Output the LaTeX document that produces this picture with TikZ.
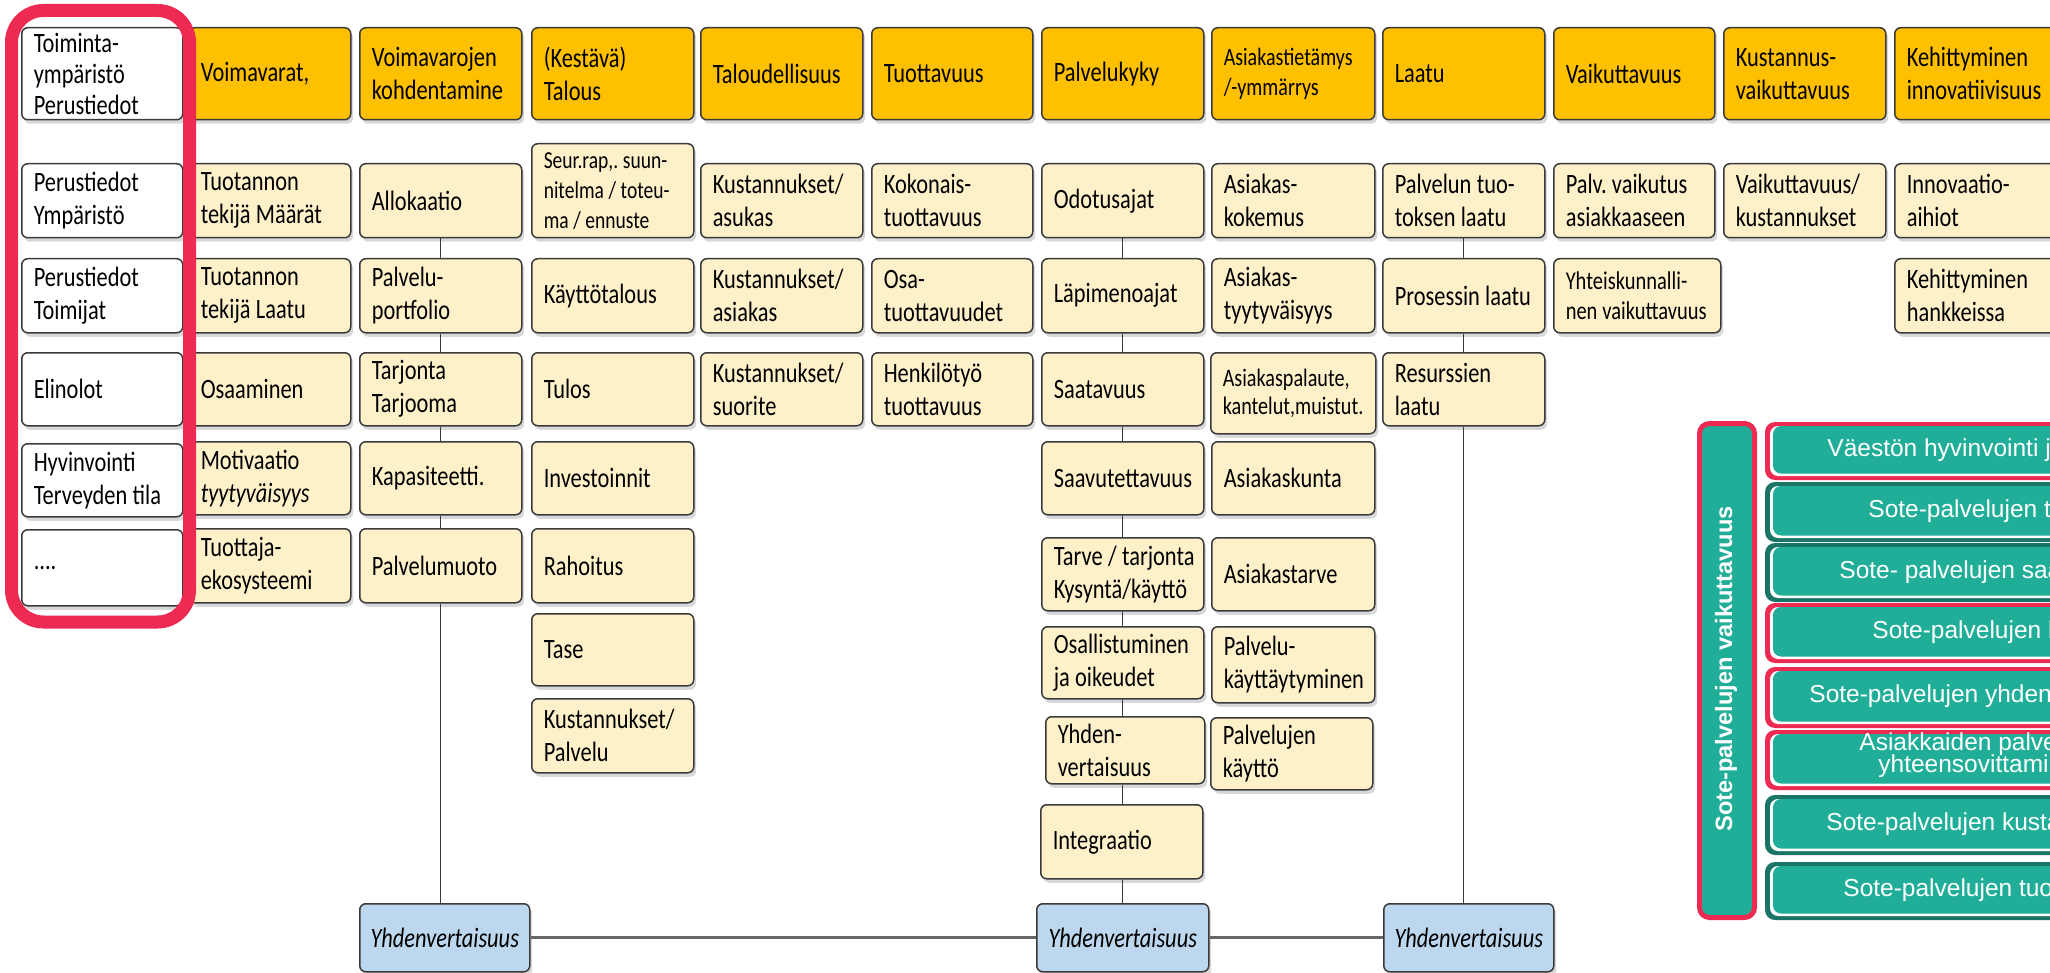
\documentclass[tikz,border=0pt]{standalone}
\usepackage{fontspec}
\setmainfont[FakeStretch=0.8]{Carlito}
\newfontfamily\arialf{Liberation Sans}
\usetikzlibrary{shadows}
\definecolor{gold}{HTML}{FFC000}
\definecolor{cream}{HTML}{FEF1CA}
\definecolor{bord}{HTML}{3A3A3A}
\definecolor{lblue}{HTML}{BDD7EE}
\definecolor{framered}{HTML}{EC2A52}
\definecolor{tealf}{HTML}{20AE98}
\definecolor{dteal}{HTML}{1B7566}
\tikzset{
  boxlook/.style={draw=bord, line width=0.75pt, rounded corners=3pt, inner xsep=0pt, inner ysep=0pt,
    drop shadow={shadow xshift=1.2pt, shadow yshift=-2pt, opacity=0.3}},
  base/.style={boxlook, align=left, font=\fontsize{14}{16.5}\selectfont,
    execute at begin node={\hyphenpenalty=10000\exhyphenpenalty=10000\frenchspacing
      \leftskip=6pt\spaceskip=0.19em plus 0.05em minus 0.02em}},
  hdr/.style={base, fill=gold},
  crm/.style={base, fill=cream},
  wht/.style={base, fill=white},
  sm/.style={font=\fontsize{12.5}{15}\selectfont},
  yhd/.style={boxlook, fill=lblue, align=center, font=\fontsize{14}{16.5}\selectfont\itshape},
  conn/.style={draw=bord, line width=0.7pt},
  hconn/.style={draw=black!60, line width=1.3pt},
  rtext/.style={font=\arialf\fontsize{12.25}{14}\selectfont, text=white, inner sep=0pt, anchor=west},
}
\newcommand\bx[7]{%
  \pgfmathsetmacro\bw{(#4-#2)*0.5}%
  \pgfmathsetmacro\bh{(#5-#3)*0.5}%
  \node[#1, anchor=north west, minimum width=\bw pt, minimum height=\bh pt, text width=\bw pt] (#6) at (#2,#3) {#7};}
\newcommand\srow[3]{%
  \fill[#1, rounded corners=5pt] (1765,#2) rectangle (2090,#3);
  \fill[white, rounded corners=4pt] (1770,#2+4) rectangle (2090,#3-4);
  \fill[tealf, rounded corners=4pt] (1773,#2+4) rectangle (2090,#3-6.5);}
\begin{document}
\begin{tikzpicture}[x=0.5pt, y=-0.5pt]
\useasboundingbox (0,0) rectangle (2050,973);
\begin{scope}
\clip (0,0) rectangle (2050,973);
\fill[white] (0,0) rectangle (2050,973);
% column 0
\bx{wht, font=\fontsize{14}{15.5}\selectfont}{21}{27}{182}{119}{h0}{Toiminta-\\ympäristö\\Perustiedot}
\bx{wht}{21}{163}{182}{237}{a1}{Perustiedot\\Ympäristö}
\bx{wht}{21}{258}{182}{332}{a2}{Perustiedot\\Toimijat}
\bx{wht}{21}{352}{182}{425}{a3}{Elinolot}
\bx{wht}{21}{443}{182}{516}{a4}{Hyvinvointi\\Terveyden tila}
\bx{wht}{21}{529}{182}{605}{a5}{....}
% column 1
\bx{hdr}{188}{27}{350}{119}{h1}{Voimavarat,}
\bx{crm}{188}{163}{350}{237}{b1}{Tuotannon\\tekijä Määrät}
\bx{crm}{188}{258}{350}{332}{b2}{Tuotannon\\tekijä Laatu}
\bx{crm}{188}{352}{350}{425}{b3}{Osaaminen}
\bx{crm}{188}{441}{350}{514}{b4}{Motivaatio\\\textit{tyytyväisyys}}
\bx{crm}{188}{528}{350}{602}{b5}{Tuottaja-\\ekosysteemi}
% column 2
\bx{hdr}{359}{27}{521}{119}{h2}{Voimavarojen\\kohdentamine}
\bx{crm}{359}{163}{521}{237}{c1}{Allokaatio}
\bx{crm}{359}{258}{521}{332}{c2}{Palvelu-\\portfolio}
\bx{crm}{359}{352}{521}{425}{c3}{Tarjonta\\Tarjooma}
\bx{crm}{359}{441}{521}{514}{c4}{Kapasiteetti.}
\bx{crm}{359}{528}{521}{602}{c5}{Palvelumuoto}
% column 3
\bx{hdr}{531}{27}{693}{119}{h3}{(Kestävä)\\Talous}
\bx{crm, font=\fontsize{12.2}{15}\selectfont}{531}{143}{693}{237}{d1}{Seur.rap,. suun-\\nitelma / toteu-\\ma / ennuste}
\bx{crm}{531}{258}{693}{332}{d2}{Käyttötalous}
\bx{crm}{531}{352}{693}{425}{d3}{Tulos}
\bx{crm}{531}{441}{693}{514}{d4}{Investoinnit}
\bx{crm}{531}{528}{693}{602}{d5}{Rahoitus}
\bx{crm}{531}{613}{693}{685}{d6}{Tase}
\bx{crm}{531}{698}{693}{772}{d7}{Kustannukset/\\Palvelu}
% column 4
\bx{hdr}{700}{27}{862}{119}{h4}{Taloudellisuus}
\bx{crm}{700}{163}{862}{237}{e1}{Kustannukset/\\asukas}
\bx{crm}{700}{258}{862}{332}{e2}{Kustannukset/\\asiakas}
\bx{crm}{700}{352}{862}{425}{e3}{Kustannukset/\\suorite}
% column 5
\bx{hdr}{871}{27}{1032}{119}{h5}{Tuottavuus}
\bx{crm}{871}{163}{1032}{237}{f1}{Kokonais-\\tuottavuus}
\bx{crm}{871}{258}{1032}{332}{f2}{Osa-\\tuottavuudet}
\bx{crm}{871}{352}{1032}{425}{f3}{Henkilötyö\\tuottavuus}
% column 6
\bx{hdr}{1041}{27}{1203}{119}{h6}{Palvelukyky}
\bx{crm}{1041}{163}{1203}{237}{g1}{Odotusajat}
\bx{crm}{1041}{258}{1203}{332}{g2}{Läpimenoajat}
\bx{crm}{1041}{352}{1203}{425}{g3}{Saatavuus}
\bx{crm}{1041}{441}{1203}{514}{g4}{Saavutettavuus}
\bx{crm}{1041}{537}{1203}{610}{g5}{Tarve / tarjonta\\Kysyntä/käyttö}
\bx{crm}{1041}{626}{1203}{698}{g6}{Osallistuminen\\ja oikeudet}
\bx{crm}{1045}{716}{1204}{783}{g7}{Yhden-\\vertaisuus}
\bx{crm}{1040}{804}{1202}{878}{g8}{Integraatio}
% column 7
\bx{hdr, sm}{1211}{27}{1374}{119}{h7}{Asiakastietämys\\/-ymmärrys}
\bx{crm}{1211}{163}{1374}{237}{k1}{Asiakas-\\kokemus}
\bx{crm}{1211}{258}{1374}{332}{k2}{Asiakas-\\tyytyväisyys}
\bx{crm, font=\fontsize{12.6}{14}\selectfont}{1210}{352}{1375}{433}{k3}{Asiakaspalaute,\\kantelut,muistut.}
\bx{crm}{1211}{441}{1374}{514}{k4}{Asiakaskunta}
\bx{crm}{1211}{537}{1374}{610}{k5}{Asiakastarve}
\bx{crm}{1211}{626}{1374}{702}{k6}{Palvelu-\\käyttäytyminen}
\bx{crm}{1210}{717}{1372}{789}{k7}{Palvelujen\\käyttö}
% column 8
\bx{hdr}{1382}{27}{1544}{119}{h8}{Laatu}
\bx{crm}{1382}{163}{1544}{237}{l1}{Palvelun tuo-\\toksen laatu}
\bx{crm}{1382}{258}{1544}{332}{l2}{Prosessin laatu}
\bx{crm}{1382}{352}{1544}{425}{l3}{Resurssien\\laatu}
% column 9
\bx{hdr}{1553}{27}{1714}{119}{h9}{Vaikuttavuus}
\bx{crm}{1553}{163}{1714}{237}{m1}{Palv. vaikutus\\asiakkaaseen}
\bx{crm, font=\fontsize{12.8}{15}\selectfont}{1553}{258}{1720}{332}{m2}{Yhteiskunnalli-\\nen vaikuttavuus}
% column 10
\bx{hdr}{1723}{27}{1885}{119}{h10}{Kustannus-\\vaikuttavuus}
\bx{crm}{1723}{163}{1885}{237}{n1}{Vaikuttavuus/\\kustannukset}
% column 11
\bx{hdr}{1894}{27}{2056}{119}{h11}{Kehittyminen\\innovatiivisuus}
\bx{crm}{1894}{163}{2056}{237}{p1}{Innovaatio-\\aihiot}
\bx{crm}{1894}{258}{2056}{332}{p2}{Kehittyminen\\hankkeissa}
% bottom boxes
\bx{yhd}{359}{903}{529}{971}{yL}{Yhdenvertaisuus}
\bx{yhd}{1036}{903}{1208}{971}{yM}{Yhdenvertaisuus}
\bx{yhd}{1383}{903}{1553}{971}{yR}{Yhdenvertaisuus}
% connectors
\draw[conn] (c1.south) -- (c2.north);
\draw[conn] (c2.south) -- (c3.north);
\draw[conn] (c3.south) -- (c4.north);
\draw[conn] (c4.south) -- (c5.north);
\draw[conn] (c5.south) -- (c5.south |- yL.north);
\draw[conn] (g1.south) -- (g2.north);
\draw[conn] (g2.south) -- (g3.north);
\draw[conn] (g3.south) -- (g4.north);
\draw[conn] (g4.south) -- (g5.north);
\draw[conn] (g5.south) -- (g6.north);
\draw[conn] (g6.south) -- (g6.south |- g7.north);
\draw[conn] (g7.south -| g6.south) -- (g8.north -| g6.south);
\draw[conn] (g8.south -| g6.south) -- (yM.north -| g6.south);
\draw[conn] (l1.south) -- (l2.north);
\draw[conn] (l2.south) -- (l3.north);
\draw[conn] (l3.south) -- (l3.south |- yR.north);
\draw[hconn] (yL.east) -- (yM.west);
\draw[hconn] (yM.east) -- (yR.west);
% left red frame
\draw[framered, line width=6.5pt, rounded corners=16pt] (11.5,10.5) rectangle (189.5,622);
% right panel
\draw[framered, line width=2.5pt, fill=tealf, rounded corners=5pt] (1699.5,423.5) rectangle (1754.5,917.5);
\node[rotate=90, font=\arialf\bfseries\fontsize{11.8}{14}\selectfont, text=white, inner sep=0pt] (vlab) at (1726,669) {Sote-palvelujen vaikuttavuus};
\srow{framered}{422}{480}
\srow{dteal}{482}{542}
\srow{dteal}{543}{602}
\srow{framered}{603}{663}
\srow{framered}{667}{728}
\srow{framered}{730}{790}
\srow{dteal}{795}{855}
\srow{dteal}{862}{920}
\node[rtext] (r1) at (1827,450) {Väestön hyvinvointi ja};
\node[rtext] (r2) at (1868,511) {Sote-palvelujen ta};
\node[rtext] (r3) at (1839,572) {Sote- palvelujen saa};
\node[rtext] (r4) at (1872,632) {Sote-palvelujen la};
\node[rtext] (r5) at (1809,696) {Sote-palvelujen yhdenv};
\node[rtext] (r6a) at (1859,744) {Asiakkaiden palve};
\node[rtext] (r6b) at (1878,766) {yhteensovittamin};
\node[rtext] (r7) at (1826,824) {Sote-palvelujen kusta};
\node[rtext] (r8) at (1843,890) {Sote-palvelujen tuot};
\end{scope}
\end{tikzpicture}
\end{document}
